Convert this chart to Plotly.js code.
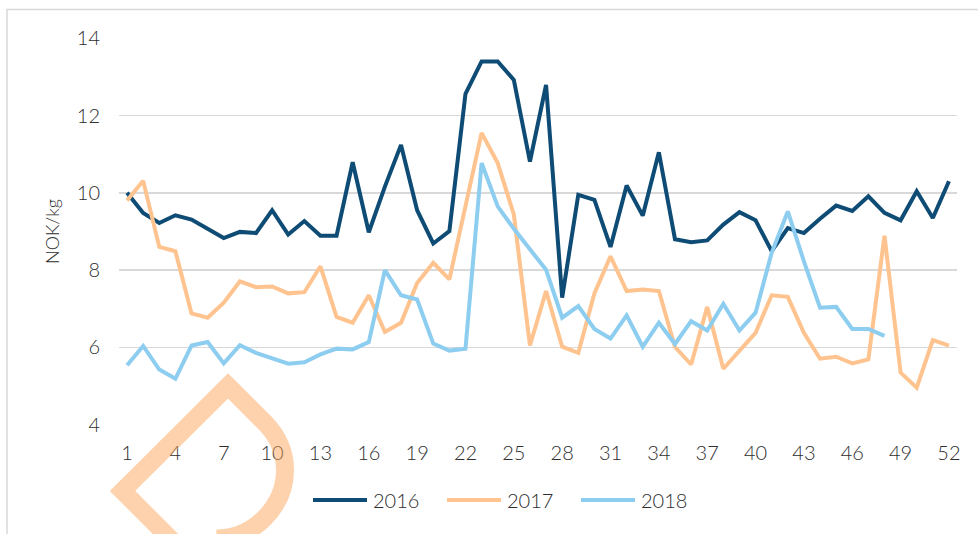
<!DOCTYPE html>
<html>
<head>
<meta charset="utf-8">
<script src="https://cdn.plot.ly/plotly-3.0.1.min.js"></script>
<style>
  html, body { margin: 0; padding: 0; background: #ffffff; }
  #chart { width: 978px; height: 534px; }
</style>
</head>
<body>
<div id="chart"></div>
<script>
// ---- data ----
const weeks = [1,2,3,4,5,6,7,8,9,10,11,12,13,14,15,16,17,18,19,20,21,22,23,24,25,26,
               27,28,29,30,31,32,33,34,35,36,37,38,39,40,41,42,43,44,45,46,47,48,49,50,51,52];
const tickWeeks = [1,4,7,10,13,16,19,22,25,28,31,34,37,40,43,46,49,52];
const seriesNames = ["2016", "2017", "2018"];
const y2016 = [10.0, 9.48, 9.22, 9.42, 9.31, 9.08, 8.83, 8.99, 8.96, 9.55,
               8.92, 9.27, 8.89, 8.89, 10.79, 8.98, 10.16, 11.24, 9.55, 8.69,
               9.01, 12.56, 13.40, 13.40, 12.92, 10.81, 12.79, 7.29, 9.95, 9.82,
               8.60, 10.19, 9.41, 11.05, 8.80, 8.72, 8.77, 9.18, 9.50, 9.29,
               8.49, 9.09, 8.96, 9.33, 9.67, 9.53, 9.91, 9.48, 9.29, 10.04,
               9.35, 10.30];
const y2017 = [9.80, 10.31, 8.60, 8.49, 6.88, 6.77, 7.16, 7.71, 7.56, 7.58,
               7.40, 7.43, 8.10, 6.79, 6.64, 7.35, 6.40, 6.64, 7.67, 8.19,
               7.76, 9.70, 11.55, 10.77, 9.44, 6.05, 7.46, 6.02, 5.86, 7.40,
               8.36, 7.46, 7.50, 7.46, 6.01, 5.56, 7.05, 5.45, 5.91, 6.38,
               7.35, 7.31, 6.38, 5.71, 5.76, 5.59, 5.69, 8.89, 5.35, 4.96,
               6.19, 6.05];
const y2018 = [5.54, 6.04, 5.43, 5.19, 6.05, 6.14, 5.59, 6.06, 5.86, 5.71,
               5.58, 5.62, 5.82, 5.97, 5.95, 6.14, 8.00, 7.35, 7.24, 6.10,
               5.92, 5.97, 10.77, 9.65, 9.07, 8.54, 8.01, 6.77, 7.07, 6.48,
               6.23, 6.83, 6.02, 6.64, 6.09, 6.68, 6.44, 7.13, 6.44, 6.90,
               8.45, 9.52, 8.23, 7.03, 7.05, 6.48, 6.48, 6.30];
const colors = ["#0e4c75", "#fec38e", "#8dcdf0"];

// ---- layout geometry ----
const W = 978, H = 534;
const M = { l: 119, r: 21, t: 38, b: 109 };
const PW = W - M.l - M.r, PH = H - M.t - M.b;
const px = X => (X - M.l) / PW;
const py = Y => (H - M.b - Y) / PH;
const P = (X, Y) => px(X).toFixed(4) + "," + py(Y).toFixed(4);

// decorative watermark (pixel outline converted to paper coordinates)
const wmPath = "M " + P(182.5, 551) + " L " + P(122.5, 491) + " L " + P(228, 386) +
  " L " + P(264.2, 422.2) +
  " C " + P(277.5, 435.5) + " " + P(285, 452.1) + " " + P(285, 470) +
  " C " + P(285, 487.9) + " " + P(277.5, 505.1) + " " + P(264.2, 518.4) +
  " C " + P(251.5, 531.1) + " " + P(234.3, 538.5) + " " + P(216.4, 538.5);

const ys = [y2016, y2017, y2018];
const traces = ys.map((y, i) => ({
  type: "scatter",
  mode: "lines",
  name: seriesNames[i],
  x: weeks.slice(0, y.length),
  y: y,
  line: { color: colors[i], width: 4 },
  hoverinfo: "skip",
  showlegend: false
}));

const font = "Lato, 'Open Sans', sans-serif";
const txt = "#2e2e2e";

// legend drawn as line samples + text (long line samples like the reference)
const legStart = 313, legStep = 134, legLine = 54, legY = 500;
const legendShapes = seriesNames.map((n, i) => ({
  type: "line", xref: "paper", yref: "paper",
  x0: px(legStart + i * legStep), x1: px(legStart + i * legStep + legLine),
  y0: py(legY), y1: py(legY),
  line: { color: colors[i], width: 4 }, layer: "above"
}));
const legendTexts = seriesNames.map((n, i) => ({
  xref: "paper", yref: "paper",
  x: px(legStart + i * legStep + legLine + 4), y: py(legY),
  xanchor: "left", yanchor: "middle",
  text: n, showarrow: false,
  font: { size: 20, color: txt, family: font, weight: 300 }
}));

const layout = {
  width: W, height: H,
  margin: M,
  paper_bgcolor: "#ffffff",
  plot_bgcolor: "#ffffff",
  font: { family: font, color: txt, size: 20, weight: 300 },
  showlegend: false,
  xaxis: {
    range: [0.5, 52.5],
    tickmode: "array",
    tickvals: tickWeeks,
    ticktext: tickWeeks.map(String),
    showgrid: false, zeroline: false, showline: false,
    ticks: "",
    ticklabelstandoff: 14,
    tickfont: { size: 20, color: txt, weight: 300 },
    fixedrange: true
  },
  yaxis: {
    range: [3.995, 14.005],
    tickmode: "linear", tick0: 4, dtick: 2,
    showgrid: true, gridcolor: "#d9d9d9", gridwidth: 1.5,
    zeroline: false, showline: false,
    ticks: "",
    ticklabelstandoff: 18,
    tickfont: { size: 20, color: txt, weight: 300 },
    title: { text: "NOK/kg", font: { size: 18, color: txt, weight: 300 }, standoff: 12 },
    fixedrange: true
  },
  annotations: legendTexts,
  shapes: [
    {
      type: "rect", xref: "paper", yref: "paper",
      x0: px(7), x1: px(990), y0: py(560), y1: py(9.5),
      line: { color: "#d9d9d9", width: 1.5 }, layer: "below"
    },
    ...legendShapes,
    {
      type: "path", xref: "paper", yref: "paper",
      path: wmPath,
      line: { color: "rgba(250,160,80,0.47)", width: 18 },
      layer: "above"
    }
  ]
};

Plotly.newPlot("chart", traces, layout, { displayModeBar: false, staticPlot: true });
</script>
</body>
</html>
